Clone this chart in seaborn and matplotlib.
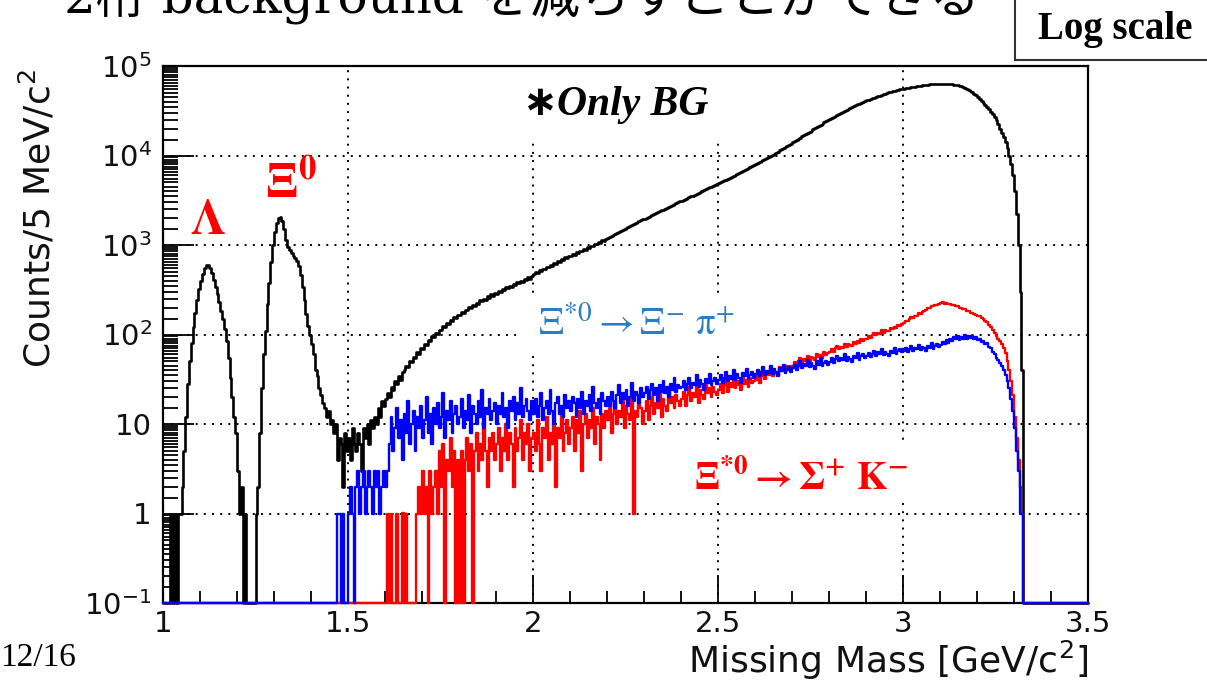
import numpy as np
import pandas as pd
import seaborn as sns
import matplotlib.pyplot as plt
from matplotlib.patches import Rectangle
from matplotlib.ticker import LogLocator, MultipleLocator, FixedLocator, NullFormatter

# ---------------- data: counts per 5 MeV bin (1.000 ... 3.495 GeV) ----------------
bin_edges = [round(1.0 + 0.005 * i, 3) for i in range(501)]

only_bg = [
    0, 0, 0, 0, 1, 0, 1, 0, 1, 1, 2, 5, 12, 28, 50, 80, 120, 175, 240, 320,                      # 1.0
    400, 480, 550, 595, 600, 560, 490, 410, 340, 280, 230, 185, 150, 115, 85, 55, 33, 20, 12, 8,  # 1.1
    3, 1, 2, 0, 1, 0, 0, 0, 0, 0, 1, 2, 8, 25, 60, 110, 220, 380, 650, 1000,                      # 1.2
    1400, 1750, 2000, 2050, 1850, 1500, 1150, 950, 880, 820, 760, 720, 660, 580, 460, 340, 240, 170, 125, 100,  # 1.3
    78, 60, 40, 34, 25, 21, 17, 15, 12, 14, 10, 11, 8, 10, 4, 7, 6, 2, 8, 5,                      # 1.4
    7, 4, 9, 6, 5, 8, 6, 3, 9, 7, 10, 6, 11, 9, 12, 10, 15, 12, 18, 16,                           # 1.5
    19, 22, 20, 26, 24, 30, 28, 34, 31, 38, 40, 45, 43, 50, 49, 56, 55, 63, 61, 70,               # 1.6
    69, 78, 77, 86, 84, 95, 93, 103, 101, 113, 111, 123, 121, 133, 131, 144, 142, 155, 153, 166,  # 1.7
    164, 178, 176, 190, 186, 202, 199, 214, 210, 226, 222, 240, 234, 252, 246, 266, 259, 280, 272, 293,  # 1.8
    286, 306, 300, 321, 314, 336, 328, 350, 342, 366, 358, 382, 372, 398, 389, 416, 405, 434, 422, 452,  # 1.9
    470, 495, 490, 520, 512, 545, 536, 570, 562, 598, 590, 628, 618, 660, 648, 692, 680, 725, 712, 760,  # 2.0
    745, 790, 778, 826, 815, 862, 852, 900, 890, 942, 930, 985, 972, 1030, 1015, 1078, 1062, 1128, 1110, 1180,  # 2.1
    1195, 1240, 1265, 1300, 1330, 1370, 1400, 1440, 1470, 1510, 1545, 1585, 1620, 1665, 1705, 1750, 1790, 1840, 1880, 1930,  # 2.2
    1975, 2020, 2070, 2120, 2170, 2220, 2270, 2320, 2370, 2430, 2490, 2550, 2610, 2670, 2730, 2800, 2860, 2930, 3000, 3070,  # 2.3
    3100, 3170, 3250, 3330, 3410, 3490, 3570, 3650, 3740, 3830, 3920, 4010, 4100, 4200, 4300, 4400, 4500, 4610, 4720, 4830,  # 2.4
    4900, 5020, 5140, 5260, 5380, 5510, 5640, 5780, 5920, 6060, 6200, 6350, 6510, 6670, 6840, 7010, 7190, 7380, 7570, 7770,  # 2.5
    7980, 8190, 8410, 8640, 8870, 9110, 9360, 9620, 9890, 10170, 10450, 10750, 11060, 11380, 11720, 12070, 12430, 12800, 13190, 13590,  # 2.6
    14000, 14430, 14880, 15340, 15820, 16310, 16820, 17350, 17890, 18450, 19020, 19610, 20210, 20830, 21460, 22100, 22760, 23430, 24110, 24800,  # 2.7
    25500, 26200, 26900, 27600, 28400, 29200, 30000, 30800, 31600, 32400, 33200, 34000, 34800, 35600, 36400, 37200, 38000, 38800, 39600, 40400,  # 2.8
    41200, 42000, 42800, 43600, 44400, 45200, 46000, 46800, 47600, 48400, 49200, 50000, 50800, 51500, 52200, 52900, 53600, 54300, 54900, 55500,  # 2.9
    56000, 56500, 57000, 57500, 58000, 58500, 59000, 59500, 60000, 60400, 60800, 61200, 61600, 62000, 62300, 62600, 62900, 63100, 63300, 63400,  # 3.0
    63500, 63500, 63400, 63300, 63100, 62800, 62500, 62100, 61600, 61000, 60300, 59500, 58500, 57300, 56000, 54500, 52800, 51000, 49000, 47000,  # 3.1
    45000, 43000, 41000, 39000, 37000, 35000, 33000, 31000, 29000, 27000, 25000, 22500, 20000, 18000, 16000, 14000, 12000, 10000, 8000, 6000,  # 3.2
    4000, 2200, 1000, 300, 40, 0, 0, 0, 0, 0, 0, 0, 0, 0, 0, 0, 0, 0, 0, 0,                       # 3.3
    0, 0, 0, 0, 0, 0, 0, 0, 0, 0, 0, 0, 0, 0, 0, 0, 0, 0, 0, 0,                                   # 3.4
]

xi_pi = [
    0, 0, 0, 0, 0, 0, 0, 0, 0, 0, 0, 0, 0, 0, 0, 0, 0, 0, 0, 0,            # 1.0
    0, 0, 0, 0, 0, 0, 0, 0, 0, 0, 0, 0, 0, 0, 0, 0, 0, 0, 0, 0,            # 1.1
    0, 0, 0, 0, 0, 0, 0, 0, 0, 0, 0, 0, 0, 0, 0, 0, 0, 0, 0, 0,            # 1.2
    0, 0, 0, 0, 0, 0, 0, 0, 0, 0, 0, 0, 0, 0, 0, 0, 0, 0, 0, 0,            # 1.3
    0, 0, 0, 0, 0, 0, 0, 0, 0, 0, 0, 0, 0, 0, 1, 1, 0, 1, 0, 0,            # 1.4
    1, 2, 1, 0, 2, 3, 1, 2, 3, 1, 2, 3, 2, 1, 3, 2, 3, 1, 2, 3,            # 1.5
    2, 3, 6, 12, 5, 9, 15, 7, 11, 4, 13, 8, 18, 6, 10, 14, 5, 12, 9, 16,   # 1.6
    7, 11, 20, 8, 13, 6, 15, 10, 17, 9, 12, 22, 7, 14, 11, 18, 8, 13, 16, 10,   # 1.7
    12, 19, 9, 14, 11, 21, 8, 16, 13, 10, 18, 12, 24, 9, 15, 13, 19, 11, 14, 17,  # 1.8
    10, 16, 13, 22, 12, 15, 9, 18, 14, 20, 11, 17, 13, 25, 12, 16, 19, 14, 11, 18,  # 1.9
    13, 19, 12, 16, 22, 11, 15, 18, 13, 24, 14, 10, 17, 20, 13, 16, 12, 21, 15, 18,  # 2.0
    14, 20, 17, 12, 19, 15, 23, 13, 18, 16, 21, 14, 26, 17, 15, 19, 13, 22, 18, 16,  # 2.1
    20, 16, 23, 18, 15, 21, 27, 17, 22, 19, 24, 16, 20, 29, 18, 23, 21, 17, 25, 20,  # 2.2
    22, 26, 19, 24, 28, 21, 25, 18, 27, 23, 30, 22, 26, 20, 28, 24, 33, 23, 27, 25,  # 2.3
    26, 30, 24, 28, 33, 25, 29, 27, 35, 26, 31, 28, 24, 32, 29, 36, 27, 30, 33, 28,  # 2.4
    31, 35, 29, 33, 38, 30, 34, 32, 40, 31, 36, 33, 29, 37, 34, 41, 32, 35, 38, 33,  # 2.5
    36, 40, 34, 38, 43, 35, 39, 37, 45, 36, 41, 38, 34, 42, 39, 46, 37, 40, 43, 38,  # 2.6
    42, 46, 40, 45, 50, 42, 47, 44, 52, 43, 48, 45, 41, 50, 46, 54, 44, 48, 51, 46,  # 2.7
    49, 54, 48, 53, 58, 50, 55, 52, 60, 51, 56, 53, 49, 58, 54, 62, 52, 57, 60, 55,  # 2.8
    57, 62, 56, 61, 66, 58, 63, 60, 68, 59, 64, 61, 57, 66, 62, 70, 60, 65, 68, 63,  # 2.9
    65, 70, 63, 69, 74, 66, 71, 68, 77, 67, 73, 70, 66, 75, 71, 80, 69, 74, 78, 72,  # 3.0
    76, 82, 79, 86, 81, 90, 85, 93, 88, 96, 87, 94, 90, 98, 89, 95, 91, 97, 88, 93,  # 3.1
    86, 90, 83, 85, 78, 80, 72, 70, 64, 60, 55, 52, 48, 44, 40, 35, 30, 25, 19, 14,  # 3.2
    9, 5, 3, 1, 1, 0, 0, 0, 0, 0, 0, 0, 0, 0, 0, 0, 0, 0, 0, 0,            # 3.3
    0, 0, 0, 0, 0, 0, 0, 0, 0, 0, 0, 0, 0, 0, 0, 0, 0, 0, 0, 0,            # 3.4
]

sigma_k = [
    0, 0, 0, 0, 0, 0, 0, 0, 0, 0, 0, 0, 0, 0, 0, 0, 0, 0, 0, 0,            # 1.0
    0, 0, 0, 0, 0, 0, 0, 0, 0, 0, 0, 0, 0, 0, 0, 0, 0, 0, 0, 0,            # 1.1
    0, 0, 0, 0, 0, 0, 0, 0, 0, 0, 0, 0, 0, 0, 0, 0, 0, 0, 0, 0,            # 1.2
    0, 0, 0, 0, 0, 0, 0, 0, 0, 0, 0, 0, 0, 0, 0, 0, 0, 0, 0, 0,            # 1.3
    0, 0, 0, 0, 0, 0, 0, 0, 0, 0, 0, 0, 0, 0, 0, 0, 0, 0, 0, 0,            # 1.4
    0, 0, 0, 0, 0, 0, 0, 0, 0, 0, 0, 0, 0, 0, 0, 0, 0, 0, 0, 0,            # 1.5
    0, 1, 0, 1, 0, 0, 1, 0, 0, 1, 0, 1, 0, 0, 0, 0, 0, 1, 2, 1,            # 1.6
    3, 1, 2, 0, 3, 1, 2, 3, 1, 5, 2, 6, 0, 4, 3, 7, 2, 5, 0, 4,            # 1.7
    0, 5, 0, 4, 7, 3, 6, 0, 5, 8, 3, 6, 4, 9, 5, 2, 7, 5, 8, 4,            # 1.8
    6, 9, 3, 7, 5, 10, 4, 8, 6, 2, 9, 5, 7, 11, 4, 8, 6, 10, 3, 7,         # 1.9
    8, 5, 11, 6, 3, 9, 7, 12, 4, 8, 6, 10, 2, 9, 7, 13, 5, 8, 11, 6,       # 2.0
    9, 12, 5, 11, 8, 14, 3, 10, 13, 7, 11, 9, 15, 6, 12, 10, 4, 13, 9, 14,  # 2.1
    11, 15, 8, 13, 17, 10, 14, 12, 18, 9, 16, 13, 11, 19, 1, 14, 12, 17, 15, 10,  # 2.2
    14, 18, 11, 16, 20, 13, 17, 15, 22, 12, 19, 16, 14, 23, 17, 20, 15, 21, 18, 16,  # 2.3
    19, 23, 16, 21, 26, 18, 22, 20, 28, 17, 24, 21, 19, 27, 22, 25, 20, 26, 23, 21,  # 2.4
    24, 28, 22, 27, 32, 23, 29, 26, 34, 25, 30, 27, 24, 33, 28, 31, 26, 33, 29, 30,  # 2.5
    31, 35, 29, 34, 39, 32, 37, 35, 42, 34, 39, 37, 35, 43, 39, 42, 38, 45, 41, 44,  # 2.6
    45, 49, 44, 50, 54, 48, 53, 51, 58, 50, 56, 54, 52, 60, 56, 59, 55, 63, 59, 62,  # 2.7
    64, 68, 63, 70, 74, 68, 73, 71, 79, 72, 78, 76, 74, 83, 79, 84, 80, 88, 85, 89,  # 2.8
    90, 95, 92, 99, 103, 98, 104, 102, 111, 105, 112, 110, 109, 118, 115, 121, 118, 127, 124, 130,  # 2.9
    135, 142, 140, 149, 155, 152, 160, 163, 172, 170, 180, 184, 188, 197, 198, 206, 208, 216, 214, 222,  # 3.0
    224, 228, 222, 226, 219, 221, 214, 215, 207, 208, 199, 200, 192, 191, 184, 183, 176, 174, 170, 165,  # 3.1
    160, 162, 152, 150, 142, 138, 128, 122, 112, 104, 96, 90, 84, 78, 70, 62, 50, 40, 30, 21,  # 3.2
    12, 7, 4, 2, 1, 0, 0, 0, 0, 0, 0, 0, 0, 0, 0, 0, 0, 0, 0, 0,           # 3.3
    0, 0, 0, 0, 0, 0, 0, 0, 0, 0, 0, 0, 0, 0, 0, 0, 0, 0, 0, 0,            # 3.4
]

x_ticks = [1, 1.5, 2, 2.5, 3, 3.5]
x_tick_labels = ["1", "1.5", "2", "2.5", "3", "3.5"]
y_ticks = [0.1, 1, 10, 100, 1e3, 1e4, 1e5]
y_tick_labels = [r"$10^{-1}$", "1", "10", r"$10^{2}$", r"$10^{3}$", r"$10^{4}$", r"$10^{5}$"]

# ---------------- style ----------------
sns.set_theme(style="white")
plt.rcParams['font.family'] = ['DejaVu Sans']
plt.rcParams['mathtext.fontset'] = 'dejavusans'

W, H = 1207, 691
fig = plt.figure(figsize=(W / 100, H / 100), dpi=100)
fig.patch.set_facecolor('white')
L, R, T, B = 163, 1088, 66, 603
ax = fig.add_axes([L / W, 1 - B / H, (R - L) / W, (B - T) / H])
ax.set_facecolor('white')

edges = np.array(bin_edges)
ymin = 0.1
series = [('bg', only_bg, 'black', 1.9, 3), ('sk', sigma_k, '#ff0000', 1.7, 4), ('xp', xi_pi, '#0000ff', 1.7, 5)]
for key, counts, col, lw, z in series:
    n = len(counts)
    e = edges[:n + 1]
    sub = pd.DataFrame({'mass': 0.5 * (e[:-1] + e[1:]),
                        'counts': np.maximum(np.asarray(counts, float), ymin)})
    n_before = len(ax.lines)
    sns.histplot(data=sub, x='mass', weights='counts', bins=list(e), element='step',
                 fill=False, color=col, linewidth=lw, ax=ax, zorder=z)
    for ln in ax.lines[n_before:]:
        ln.set_clip_on(False)

ax.set_yscale('log')
ax.set_xlim(1.0, 3.5)
ax.set_ylim(ymin, 1e5)
ax.set_xlabel('')
ax.set_ylabel('')

# ticks (ROOT style: inside, bottom/left only)
ax.xaxis.set_major_locator(FixedLocator(x_ticks))
ax.set_xticklabels(x_tick_labels)
ax.xaxis.set_minor_locator(MultipleLocator(0.1))
ax.yaxis.set_major_locator(FixedLocator(y_ticks))
ax.set_yticklabels(y_tick_labels)
ax.yaxis.set_minor_locator(LogLocator(base=10, subs=np.arange(1.5, 10, 0.5), numticks=50))
ax.yaxis.set_minor_formatter(NullFormatter())
ax.tick_params(which='both', direction='in', top=False, right=False, bottom=True, left=True,
               colors='black', width=1.3, labelsize=21, labelcolor='#111111')
ax.tick_params(axis='y', which='major', length=22, pad=8)
ax.tick_params(axis='y', which='minor', length=11)
ax.tick_params(axis='x', which='major', length=20, pad=5)
ax.tick_params(axis='x', which='minor', length=9)

for s in ax.spines.values():
    s.set_color('black')
    s.set_linewidth(1.6)
    s.set_visible(True)

ax.set_axisbelow(True)
ax.grid(True, which='major', color='black', linestyle=(0, (1, 3.2)), linewidth=1.4)

# white backdrops behind the in-plot labels (they hide the grid, as in the original)
for (x0, x1, y0, y1) in [(499, 733, 67, 140), (517, 762, 293, 353), (690, 915, 442, 500)]:
    ax.add_patch(Rectangle(((x0 - L) / (R - L), (B - y1) / (B - T)), (x1 - x0) / (R - L),
                           (y1 - y0) / (B - T), transform=ax.transAxes, facecolor='white',
                           edgecolor='none', zorder=2.4))

# ---------------- annotations ----------------
ax.text(1.122, 1900, r'$\mathbf{\Lambda}$', color='#ff0000', fontsize=36, ha='center', va='center',
        math_fontfamily='stix', zorder=6)
ax.text(1.345, 4800, r'$\mathbf{\Xi^{0}}$', color='#ff0000', fontsize=36, ha='center', va='center',
        math_fontfamily='stix', zorder=6)
ax.text(2.017, 3.9e4, '\u2217', color='black', fontsize=30, ha='center', va='center',
        family='DejaVu Sans', fontweight='bold', zorder=6)
ax.text(2.064, 3.7e4, 'Only BG', color='black', fontsize=30, ha='left', va='center',
        family='Liberation Serif', fontweight='bold', fontstyle='italic', zorder=6)
ax.text(2.28, 132, r'$\Xi^{*0} \rightarrow \Xi^{-}\ \mathrm{\pi}^{+}$', color='#2a7dc6', fontsize=28,
        ha='center', va='center', math_fontfamily='stix', zorder=6)
ax.text(2.725, 2.45, r'$\mathbf{\Xi^{*0} \rightarrow \Sigma^{+}\ K^{-}}$', color='#ff0000', fontsize=28,
        ha='center', va='center', math_fontfamily='stix', zorder=6)

fig.text(38 / W, 1 - 219 / H, r'Counts/5 MeV/c$^{2}$', rotation=90, ha='center', va='center',
         fontsize=26, color='#111111')
fig.text(R / W, 1 - 660 / H, r'Missing Mass [GeV/c$^{2}$]', ha='right', va='center',
         fontsize=26, color='#111111')

# slide elements around the chart
fig.text(64 / W, 1 - 12 / H, '2桁 background を減らすことができる', ha='left', va='baseline',
         fontsize=36, family=['DejaVu Serif', 'Noto Sans CJK JP'], color='black')
fig.patches.append(Rectangle((1015 / W, 1 - 60 / H), 0.3, 0.2, transform=fig.transFigure,
                             facecolor='white', edgecolor='#333333', linewidth=1.5, figure=fig))
fig.text(1115 / W, 1 - 29 / H, 'Log scale', ha='center', va='center', fontsize=28,
         family='Liberation Serif', fontweight='bold', color='black')
fig.text(0 / W, 1 - 658 / H, '12/16', ha='left', va='center', fontsize=24,
         family='Liberation Serif', color='black')

fig.savefig('out.png', dpi=100, facecolor='white')
